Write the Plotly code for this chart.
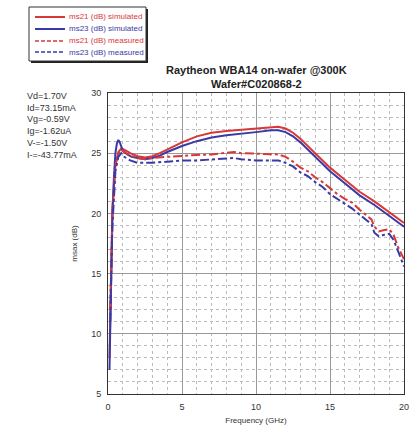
import plotly.graph_objects as go

# ---- data ----
f_sim_red = [0.1, 0.2, 0.3, 0.5, 0.7, 0.9, 1.1, 1.5, 2, 2.5, 3, 3.5, 4, 5, 6, 7, 8, 9, 10, 11, 11.5, 12, 12.5, 13, 13.5, 14, 15, 16, 17, 18, 19, 20]
ms21_sim = [8, 15, 20.5, 24, 25.1, 25.4, 25.3, 25.0, 24.75, 24.65, 24.75, 25.0, 25.3, 25.9, 26.4, 26.7, 26.85, 26.95, 27.05, 27.15, 27.2, 27.05, 26.7, 26.2, 25.6, 25.0, 23.8, 22.8, 21.8, 21.0, 20.1, 19.2]

f_sim_blue = [0.1, 0.2, 0.3, 0.4, 0.5, 0.6, 0.7, 0.8, 1.0, 1.3, 1.6, 2, 2.5, 3, 3.5, 4, 5, 6, 7, 8, 9, 10, 11, 11.5, 12, 12.5, 13, 13.5, 14, 15, 16, 17, 18, 19, 20]
ms23_sim = [7, 14, 20, 23, 25, 25.8, 26.1, 25.9, 25.2, 24.9, 24.7, 24.6, 24.5, 24.6, 24.8, 25.1, 25.6, 26.0, 26.3, 26.5, 26.6, 26.75, 26.9, 26.9, 26.75, 26.4, 25.9, 25.3, 24.7, 23.5, 22.5, 21.5, 20.7, 19.8, 18.9]

f_meas = [0.15, 0.3, 0.5, 0.7, 0.9, 1.1, 1.5, 2, 2.5, 3, 4, 5, 6, 7, 8, 8.5, 9, 10, 11, 11.5, 12, 12.5, 13, 13.5, 14, 14.5, 15, 15.5, 16, 16.5, 17, 17.5, 17.8, 18, 18.3, 18.6, 19, 19.3, 19.6, 20]
ms21_meas = [12, 20, 24, 25.0, 25.3, 25.1, 24.8, 24.6, 24.5, 24.6, 24.7, 24.8, 24.85, 24.9, 25.0, 25.1, 25.0, 24.95, 24.95, 24.9, 24.7, 24.3, 23.8, 23.5, 23.0, 22.6, 22.1, 21.6, 21.2, 20.9, 20.3, 19.8, 19.5, 18.9, 18.5, 18.6, 18.7, 18.2, 17.2, 16.2]
ms23_meas = [11, 19, 23.5, 24.7, 25.0, 24.7, 24.4, 24.2, 24.2, 24.2, 24.3, 24.4, 24.4, 24.5, 24.6, 24.6, 24.5, 24.4, 24.4, 24.4, 24.2, 23.9, 23.4, 23.1, 22.6, 22.2, 21.6, 21.2, 20.8, 20.4, 19.9, 19.4, 19.1, 18.4, 18.1, 18.2, 18.3, 17.8, 16.8, 15.6]

x_ticks = [0, 5, 10, 15, 20]
y_ticks = [5, 10, 15, 20, 25, 30]
bias_lines = ["Vd=1.70V", "Id=73.15mA", "Vg=-0.59V", "Ig=-1.62uA", "V-=-1.50V", "I-=-43.77mA"]
legend_names = ["ms21 (dB) simulated", "ms23 (dB) simulated", "ms21 (dB) measured", "ms23 (dB) measured"]

RED = "#d83838"
BLUE = "#3a3aa6"
DASH = "9px,3px,3px,3px"
colors = [RED, BLUE, RED, BLUE]
dashes = ["solid", "solid", DASH, DASH]

W, H = 410, 429
L, R, T, B = 108, 6, 93, 35
PW, PH = W - L - R, H - T - B


def px(x):
    return (x - L) / PW


def py(y):
    return (H - B - y) / PH


fig = go.Figure()
series = [(f_sim_red, ms21_sim), (f_sim_blue, ms23_sim), (f_meas, ms21_meas), (f_meas, ms23_meas)]
for (xs, ys), nm, c, d in zip(series, legend_names, colors, dashes):
    fig.add_trace(go.Scatter(x=xs, y=ys, mode="lines", name=nm,
                             line=dict(color=c, width=2, dash=d), showlegend=False))

axis_common = dict(
    showline=True, linecolor="#333", linewidth=1, mirror=True,
    showgrid=True, gridcolor="#999", gridwidth=1,
    ticks="outside", ticklen=4, tickcolor="rgba(0,0,0,0)", zeroline=False,
    tickfont=dict(size=9, color="#333", family="Liberation Sans"),
    ticklabeloverflow="allow", automargin=False,
    minor=dict(showgrid=True, gridcolor="#bbb", griddash="dot", gridwidth=1),
)

fig.update_xaxes(range=[0, 20], tickvals=x_ticks, minor_dtick=1,
                 title=dict(text="Frequency (GHz)", font=dict(size=8, color="#333"), standoff=6),
                 **axis_common)
fig.update_yaxes(range=[5, 30], tickvals=y_ticks, minor_dtick=1,
                 title=dict(text="msax (dB)", font=dict(size=8, color="#333"), standoff=12),
                 **axis_common)

fig.add_annotation(text="<br>".join(bias_lines), xref="paper", yref="paper",
                   x=px(25), y=py(89), xanchor="left", yanchor="top", showarrow=False, align="left",
                   font=dict(size=9, color="#333", family="Liberation Sans"))

# title as annotation
fig.add_annotation(text="<b>Raytheon WBA14 on-wafer @300K<br>Wafer#C020868-2</b>", xref="paper", yref="paper",
                   x=0.5, y=py(92), xanchor="center", yanchor="bottom", showarrow=False, align="center",
                   font=dict(size=11, color="#222", family="Liberation Sans"))

# manual legend box (with drop shadow)
bx0, by0, bx1, by1 = 29, 7, 146, 61
fig.add_shape(type="rect", xref="paper", yref="paper", x0=px(bx0 + 2), x1=px(bx1 + 2), y0=py(by0 + 2), y1=py(by1 + 2),
              fillcolor="#222", line=dict(width=0), layer="above")
fig.add_shape(type="rect", xref="paper", yref="paper", x0=px(bx0), x1=px(bx1), y0=py(by0), y1=py(by1),
              fillcolor="white", line=dict(color="#333", width=1), layer="above")
rows = [17, 29, 41, 52]
for ry, nm, c, d in zip(rows, legend_names, colors, dashes):
    fig.add_shape(type="line", xref="paper", yref="paper", x0=px(35), x1=px(65), y0=py(ry), y1=py(ry),
                  line=dict(color=c, width=2 if d == "solid" else 1.5, dash="solid" if d == "solid" else "4px,2px"),
                  layer="above")
    fig.add_annotation(text=nm, xref="paper", yref="paper", x=px(67), y=py(ry), xanchor="left", yanchor="middle",
                       showarrow=False, font=dict(size=8, color=c, family="Liberation Sans"))

fig.update_layout(
    width=W, height=H,
    margin=dict(l=L, r=R, t=T, b=B),
    paper_bgcolor="white", plot_bgcolor="white",
    font=dict(family="Liberation Sans", color="#333"),
    showlegend=False,
)

fig.write_html("out.html")
